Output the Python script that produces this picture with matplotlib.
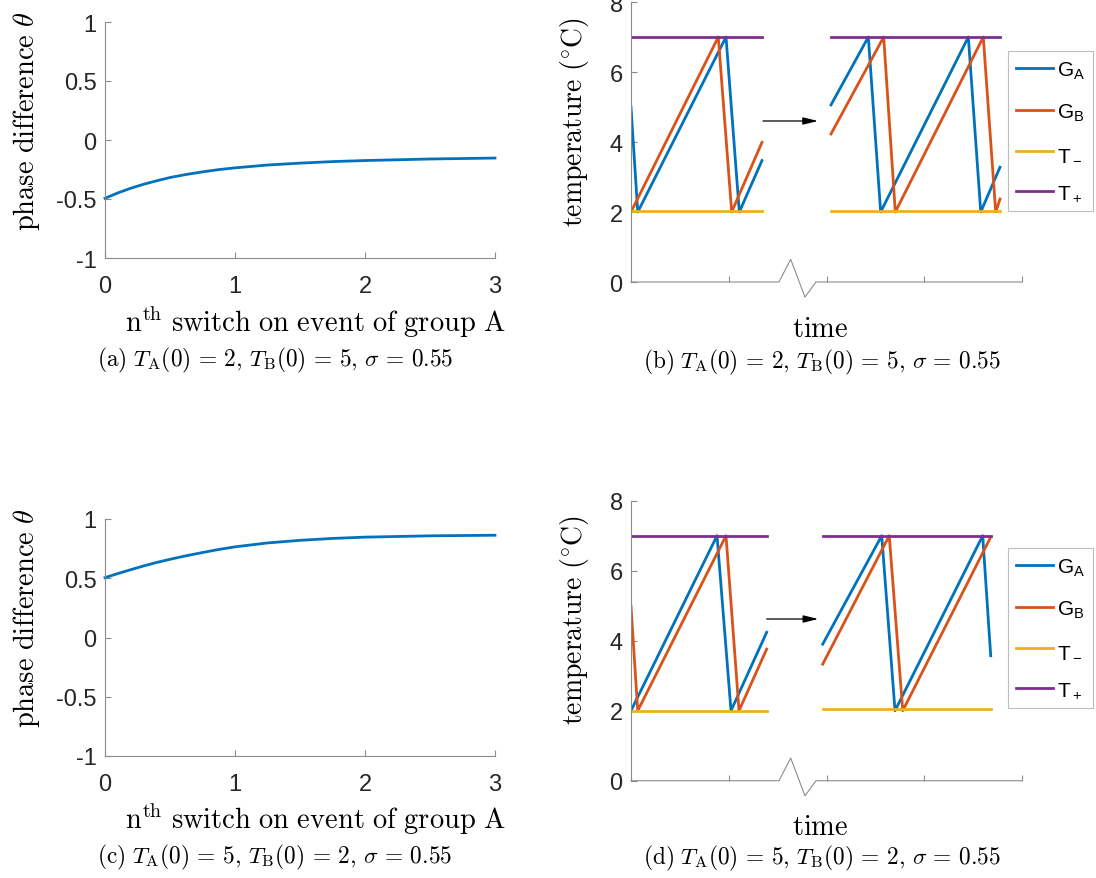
import numpy as np
import matplotlib.pyplot as plt

plt.rcParams['font.family'] = ['Liberation Sans', 'DejaVu Sans']
plt.rcParams['mathtext.fontset'] = 'cm'
plt.rcParams['axes.unicode_minus'] = False

BLUE = '#0072BD'
ORANGE = '#D95319'
YELLOW = '#EDB120'
PURPLE = '#7E2F8E'
SPINE = '#8c8c8c'
TICKTXT = '#262626'

# phase difference after each switch-on event of group A
phase_n = [0, 0.1, 0.2, 0.3, 0.4, 0.5, 0.625, 0.75, 0.875, 1, 1.25, 1.5, 1.75, 2, 2.5, 3]
phase_a = [-0.494, -0.448, -0.408, -0.374, -0.345, -0.318, -0.292, -0.270, -0.251, -0.236,
           -0.212, -0.196, -0.183, -0.174, -0.161, -0.153]
phase_c = [0.505, 0.540, 0.573, 0.605, 0.634, 0.660, 0.690, 0.717, 0.743, 0.765,
           0.798, 0.820, 0.836, 0.847, 0.858, 0.863]

# temperature traces, panel (b): two time windows
b_windows = [(0.0, 1.340), (2.046, 3.775)]
b_ga_t = [[0.0, 0.069, 0.972, 1.108, 1.340], [2.046, 2.428, 2.554, 3.451, 3.578, 3.775]]
b_ga_T = [[5.0, 2.0, 7.0, 2.0, 3.47], [5.06, 7.0, 2.0, 7.0, 2.0, 3.28]]
b_gb_t = [[0.0, 0.893, 1.030, 1.340], [2.046, 2.585, 2.704, 3.604, 3.731, 3.775]]
b_gb_T = [[2.0, 7.0, 2.0, 3.99], [4.23, 7.0, 2.0, 7.0, 2.0, 2.37]]

# temperature traces, panel (d)
d_windows = [(0.0, 1.388), (1.961, 3.680)]
d_ga_t = [[0.0, 0.880, 1.023, 1.388], [1.961, 2.565, 2.701, 3.598, 3.680]]
d_ga_T = [[2.0, 7.0, 2.0, 4.24], [3.9, 7.0, 2.0, 7.0, 3.57]]
d_gb_t = [[0.0, 0.069, 0.972, 1.105, 1.388], [1.961, 2.642, 2.780, 3.680]]
d_gb_T = [[4.98, 2.0, 7.0, 2.0, 3.76], [3.33, 7.0, 2.0, 6.96]]

T_high = 7.0

W, H = 1096, 879
fig = plt.figure(figsize=(W / 100, H / 100), dpi=100)


def box(l, t, r, b):
    return [l / W, 1 - b / H, (r - l) / W, (b - t) / H]


def ftext(x, y, s, size, rot=0):
    fig.text(x / W, 1 - y / H, s, ha='center', va='center', fontsize=size,
             rotation=rot, color='k')


def style(ax):
    for s in ['top', 'right']:
        ax.spines[s].set_visible(False)
    for s in ['left', 'bottom']:
        ax.spines[s].set_color(SPINE)
        ax.spines[s].set_linewidth(0.8)
    ax.tick_params(direction='in', length=4, width=0.8, color=SPINE,
                   labelsize=17, labelcolor=TICKTXT, pad=6)
    ax.tick_params(axis='x', pad=12)


def phase_panel(rect, values):
    ax = fig.add_axes(box(*rect))
    ax.plot(phase_n, values, color=BLUE, lw=2, clip_on=False)
    ax.set_xlim(0, 3)
    ax.set_ylim(-1, 1)
    ax.set_xticks([0, 1, 2, 3])
    ax.set_xticklabels(['0', '1', '2', '3'])
    ax.set_yticks([-1, -0.5, 0, 0.5, 1])
    ax.set_yticklabels(['-1', '-0.5', '0', '0.5', '1'])
    style(ax)
    return ax


def temp_panel(rect, windows, ga_t, ga_T, gb_t, gb_T, t_low, arrow, legend_xy):
    ax = fig.add_axes(box(*rect))
    handles = []
    for i, (t0, t1) in enumerate(windows):
        h1, = ax.plot(ga_t[i], ga_T[i], color=BLUE, lw=2)
        h2, = ax.plot(gb_t[i], gb_T[i], color=ORANGE, lw=2)
        h3, = ax.plot([t0, t1], [t_low[i], t_low[i]], color=YELLOW, lw=2)
        h4, = ax.plot([t0, t1], [T_high, T_high], color=PURPLE, lw=2)
        if i == 0:
            handles = [h1, h2, h3, h4]
    ax.set_xlim(0, 4)
    ax.set_ylim(0, 8)
    ax.set_yticks([0, 2, 4, 6, 8])
    ax.set_yticklabels(['0', '2', '4', '6', '8'])
    ax.set_xticks([1, 2, 3, 4])
    ax.set_xticklabels([])
    style(ax)
    ax.spines['bottom'].set_visible(False)
    # broken time axis with a zigzag
    ax.plot([0, 0.3785, 0.4084, 0.445, 0.473, 1], [0, 0, 0.081, -0.054, 0, 0],
            transform=ax.transAxes, color=SPINE, lw=0.8, clip_on=False)
    ax.annotate('', xy=(arrow[1], arrow[2]), xytext=(arrow[0], arrow[2]),
                arrowprops=dict(arrowstyle='-|>,head_length=0.9,head_width=0.22',
                                color='k', lw=0.9, shrinkA=0, shrinkB=0))
    labels = [r'$\mathregular{G_A}$', r'$\mathregular{G_B}$',
              r'$\mathregular{T_-}$', r'$\mathregular{T_+}$']
    leg = ax.legend(handles, labels, loc='upper left',
                    bbox_to_anchor=(legend_xy[0] / W, 1 - legend_xy[1] / H),
                    bbox_transform=fig.transFigure, borderaxespad=0,
                    fontsize=15, handlelength=1.75, handletextpad=0.2,
                    labelspacing=1.0, borderpad=0.4, fancybox=False,
                    framealpha=1)
    leg.get_frame().set_edgecolor('#bdbdbd')
    leg.get_frame().set_linewidth(0.8)
    for line in leg.get_lines():
        line.set_linewidth(2)
    return ax


phase_panel((105, 23, 495, 259), phase_a)
phase_panel((105, 520, 495, 757), phase_c)

temp_panel((631, 3, 1022, 283), b_windows, b_ga_t, b_ga_T, b_gb_t, b_gb_T,
           [2.03, 2.02], (1.350, 1.913, 4.6), (1008, 52))
temp_panel((631, 501.7, 1022, 781.7), d_windows, d_ga_t, d_ga_T, d_gb_t, d_gb_T,
           [1.99, 2.05], (1.388, 1.916, 4.62), (1008, 549))

xlab = r'$\mathrm{n^{th}\ switch\ on\ event\ of\ group\ A}$'
ylab = r'$\mathrm{phase\ difference}\ \theta$'
tlab = r'$\mathrm{temperature}\ (^{\circ}\mathrm{C})$'


def caption(tag, ta, tb):
    return (r'$\mathrm{(%s)}\ T_\mathrm{A}(0) \,=\, %d,\, T_\mathrm{B}(0) \,=\, %d,\,'
            r' \sigma \,=\, 0.55$' % (tag, ta, tb))


ftext(27, 121, ylab, 20.5, rot=90)
ftext(315, 322, xlab, 20.5)
ftext(275, 360, caption('a', 2, 5), 16.8)
ftext(574, 122, tlab, 20, rot=90)
ftext(820, 330, r'$\mathrm{time}$', 20.5)
ftext(822, 362, caption('b', 2, 5), 16.8)

ftext(27, 618, ylab, 20.5, rot=90)
ftext(315, 819, xlab, 20.5)
ftext(275, 857, caption('c', 5, 2), 16.8)
ftext(574, 620, tlab, 20, rot=90)
ftext(820, 828, r'$\mathrm{time}$', 20.5)
ftext(822, 858, caption('d', 5, 2), 16.8)

fig.savefig('out.png', dpi=100)
